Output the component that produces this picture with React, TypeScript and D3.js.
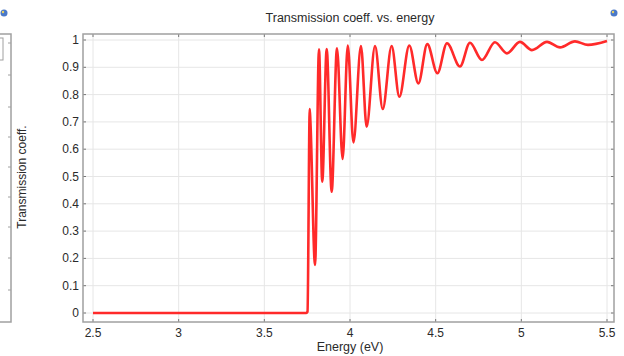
import React from "react";
import * as d3 from "d3";

const energy = [
  2.5, 3.745, 3.752, 3.765, 3.769, 3.796, 3.819, 3.838, 3.864, 3.893, 3.924, 3.957, 3.987,
  4.02, 4.064, 4.097, 4.146, 4.191, 4.243, 4.288, 4.346, 4.399, 4.451, 4.51, 4.566,
  4.642, 4.7, 4.77, 4.846, 4.916, 4.992, 5.062, 5.15, 5.226, 5.313, 5.389, 5.5,
];
const transmission = [
  0, 0, 0.005, 0.747, 0.7, 0.176, 0.966, 0.481, 0.967, 0.444, 0.97, 0.564, 0.98,
  0.625, 0.978, 0.682, 0.978, 0.747, 0.978, 0.792, 0.98, 0.841, 0.985, 0.878, 0.988,
  0.903, 0.99, 0.927, 0.992, 0.951, 0.993, 0.963, 0.993, 0.973, 0.995, 0.982, 0.996,
];
const xTicks = [2.5, 3, 3.5, 4, 4.5, 5, 5.5];
const yTicks = [0, 0.1, 0.2, 0.3, 0.4, 0.5, 0.6, 0.7, 0.8, 0.9, 1];
const sidePanelTicks = [43, 75, 107, 137, 167, 197, 227, 258, 290];

const W = 624;
const H = 356;
const L = 83, R = 614, T = 34, B = 322;
const FONT = "'Liberation Sans', Arial, sans-serif";

export default function App() {
  const x = d3.scaleLinear().domain([2.5, 5.5]).range([93, 607]);
  const y = d3.scaleLinear().domain([0, 1]).range([313, 40]);
  const pts = energy.map((e, i) => [e, transmission[i]] as [number, number]);
  const line = d3
    .line<[number, number]>()
    .x((d) => x(d[0]))
    .y((d) => y(d[1]))
    .curve(d3.curveMonotoneX);
  const fmt = (v: number) => String(v);
  const frame = "#a0a0a0";
  return (
    <svg
      width={W}
      height={H}
      style={{ position: "absolute", left: 0, top: 0, background: "#fff" }}
    >
      {/* side panel fragment */}
      <rect x={-10} y={T} width={21} height={B - T} fill="none" stroke={frame} strokeWidth={1.5} />
      <rect x={-10} y={38} width={13} height={22} fill="none" stroke={frame} strokeWidth={1} />
      {sidePanelTicks.map((t) => (
        <line key={t} x1={11} x2={8} y1={t} y2={t} stroke={frame} strokeWidth={1} />
      ))}
      {/* icons */}
      {[4, 614].map((cx) => (
        <g key={cx}>
          <circle cx={cx} cy={13} r={3.5} fill="#4a78c8" />
          <circle cx={cx - 1} cy={12} r={1.2} fill="#e8d060" />
        </g>
      ))}
      {/* title */}
      <text x={350} y={22} textAnchor="middle" fontFamily={FONT} fontSize={12.5} fill="#2a2a2a">
        Transmission coeff. vs. energy
      </text>
      {/* grid */}
      {xTicks.map((t) => (
        <line key={"gx" + t} x1={x(t)} x2={x(t)} y1={T} y2={B} stroke="#e6e6e6" strokeWidth={1} />
      ))}
      {yTicks.map((t) => (
        <line key={"gy" + t} x1={L} x2={R} y1={y(t)} y2={y(t)} stroke="#e6e6e6" strokeWidth={1} />
      ))}
      {/* ticks */}
      {xTicks.map((t) => (
        <g key={"tx" + t}>
          <line x1={x(t)} x2={x(t)} y1={B} y2={B - 3} stroke="#777" />
          <line x1={x(t)} x2={x(t)} y1={T} y2={T + 3} stroke="#777" />
          <text x={x(t)} y={337} textAnchor="middle" fontFamily={FONT} fontSize={12} fill="#2a2a2a">
            {fmt(t)}
          </text>
        </g>
      ))}
      {yTicks.map((t) => (
        <g key={"ty" + t}>
          <line x1={L} x2={L + 3} y1={y(t)} y2={y(t)} stroke="#777" />
          <line x1={R} x2={R - 3} y1={y(t)} y2={y(t)} stroke="#777" />
          <text x={79} y={y(t) + 4} textAnchor="end" fontFamily={FONT} fontSize={12} fill="#2a2a2a">
            {fmt(t)}
          </text>
        </g>
      ))}
      {/* curve */}
      <path d={line(pts) || ""} fill="none" stroke="#ff2a2a" strokeWidth={2.6} strokeLinejoin="round" />
      {/* frame */}
      <rect x={L} y={T} width={R - L} height={B - T} fill="none" stroke={frame} strokeWidth={1.5} />
      {/* axis labels */}
      <text x={350} y={351} textAnchor="middle" fontFamily={FONT} fontSize={12.5} fill="#2a2a2a">
        Energy (eV)
      </text>
      <text
        transform={`translate(26,177) rotate(-90)`}
        textAnchor="middle"
        fontFamily={FONT}
        fontSize={12}
        fill="#2a2a2a"
      >
        Transmission coeff.
      </text>
    </svg>
  );
}
